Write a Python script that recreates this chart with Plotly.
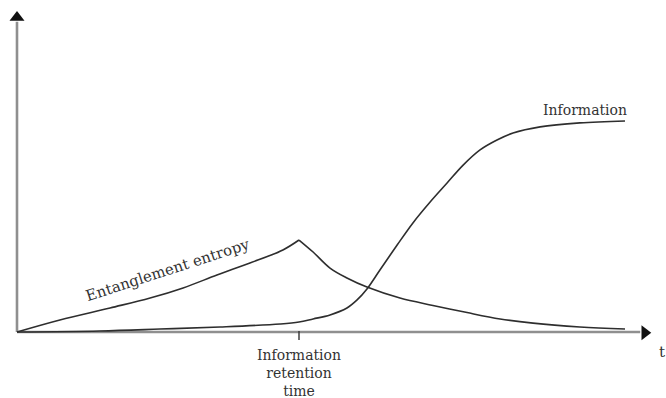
import plotly.graph_objects as go

# Time axis (retention time = 1) and curve values (information plateau = 1)
entropy_t = [0.0, 0.152, 0.330, 0.472, 0.589, 0.709, 0.826, 0.943, 1.0,
             1.050, 1.110, 1.170, 1.241, 1.358, 1.475, 1.596, 1.713, 1.830, 1.996, 2.156]
entropy_v = [0.0, 0.057, 0.114, 0.161, 0.209, 0.270, 0.327, 0.389, 0.436,
             0.379, 0.303, 0.256, 0.213, 0.161, 0.126, 0.092, 0.062, 0.042, 0.024, 0.014]
peak_index = 8

info_t = [0.0, 0.294, 0.507, 0.720, 0.933, 1.0, 1.050, 1.110, 1.170, 1.206, 1.241, 1.287, 1.348,
          1.404, 1.465, 1.525, 1.582, 1.642, 1.702, 1.759, 1.855, 1.996, 2.156]
info_v = [0.0, 0.005, 0.014, 0.024, 0.038, 0.047, 0.062, 0.081, 0.114, 0.152, 0.204, 0.294, 0.412,
          0.517, 0.616, 0.706, 0.791, 0.863, 0.910, 0.943, 0.972, 0.991, 1.0]

retention_time = 1.0
axis_labels = {"info_top": "Information", "entropy": "Entanglement entropy",
               "retention": "Information<br>retention<br>time", "t": "t"}

line_color = "#2e2e2e"
axis_color = "#8f8f8f"
text_color = "#333333"
font_family = "DejaVu Serif"
curve_line = dict(color=line_color, width=1.6, shape="spline", smoothing=1.0)

fig = go.Figure()

# Entanglement entropy: rising branch and decaying branch meet at a sharp peak
fig.add_trace(go.Scatter(x=entropy_t[:peak_index + 1], y=entropy_v[:peak_index + 1],
                         mode="lines", line=curve_line, hoverinfo="skip"))
fig.add_trace(go.Scatter(x=entropy_t[peak_index:], y=entropy_v[peak_index:],
                         mode="lines", line=curve_line, hoverinfo="skip"))
# Information curve
fig.add_trace(go.Scatter(x=info_t, y=info_v, mode="lines", line=curve_line, hoverinfo="skip"))

# Axis arrowheads
fig.add_trace(go.Scatter(x=[0.0], y=[1.49], mode="markers",
                         marker=dict(symbol="triangle-up", size=13, color="#111111"),
                         hoverinfo="skip", cliponaxis=False))
fig.add_trace(go.Scatter(x=[2.226], y=[-0.004], mode="markers",
                         marker=dict(symbol="triangle-right", size=13, color="#111111"),
                         hoverinfo="skip", cliponaxis=False))

shapes = [
    # vertical axis
    dict(type="line", xref="x", yref="y", x0=0, x1=0, y0=0, y1=1.47,
         line=dict(color=axis_color, width=2.6), layer="below"),
    # horizontal (time) axis
    dict(type="line", xref="x", yref="y", x0=0, x1=2.21, y0=0, y1=0,
         line=dict(color=axis_color, width=2.6), layer="below"),
    # retention time tick
    dict(type="line", xref="x", yref="y", x0=retention_time, x1=retention_time, y0=0.005, y1=-0.038,
         line=dict(color="#333333", width=1.4)),
]

annotations = [
    dict(x=2.014, y=1.052, xref="x", yref="y", text=axis_labels["info_top"], showarrow=False,
         font=dict(family=font_family, size=14, color=text_color), xanchor="center", yanchor="middle"),
    dict(x=0.535, y=0.295, xref="x", yref="y", text=axis_labels["entropy"], showarrow=False,
         textangle=-18, font=dict(family=font_family, size=15, color=text_color),
         xanchor="center", yanchor="middle"),
    dict(x=retention_time, y=-0.061, xref="x", yref="y", text=axis_labels["retention"], showarrow=False,
         font=dict(family=font_family, size=14, color=text_color), xanchor="center", yanchor="top",
         align="center"),
    dict(x=2.268, y=-0.095, xref="x", yref="y", text=axis_labels["t"], showarrow=False,
         font=dict(family=font_family, size=15, color=text_color), xanchor="left", yanchor="middle"),
]

fig.update_layout(
    width=666, height=398,
    margin=dict(l=0, r=0, t=0, b=0),
    paper_bgcolor="white", plot_bgcolor="white",
    showlegend=False,
    shapes=shapes, annotations=annotations,
    xaxis=dict(range=[-0.0603, 2.3014], visible=False, fixedrange=True),
    yaxis=dict(range=[-0.3128, 1.5735], visible=False, fixedrange=True),
)

fig.write_html("out.html")
